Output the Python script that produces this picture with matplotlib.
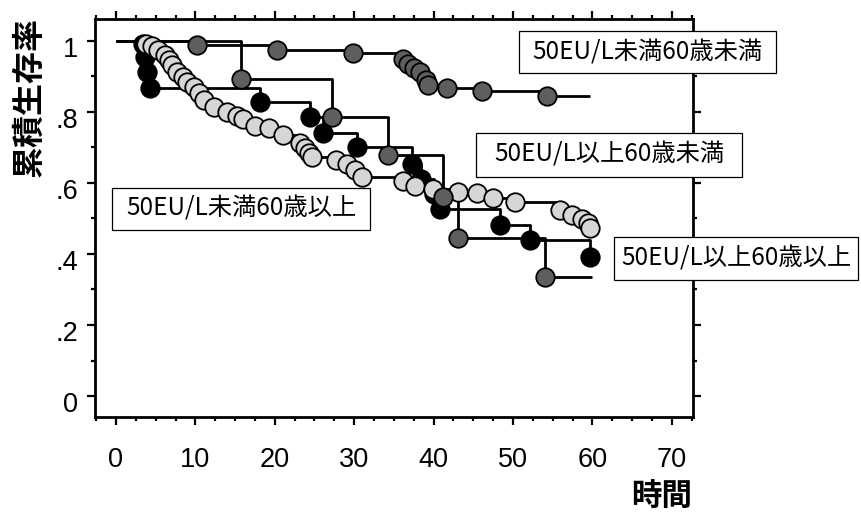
import matplotlib
matplotlib.use("Agg")
import matplotlib.pyplot as plt
import matplotlib.transforms as mtransforms
from matplotlib.patches import Rectangle
from matplotlib.ticker import MultipleLocator, FixedLocator, FixedFormatter

JP = ["Noto Sans CJK JP", "DejaVu Sans"]
NUM = ["Liberation Sans", "DejaVu Sans"]

# Kaplan-Meier survival estimates per group (time, cumulative survival)
# 50EU/L未満60歳未満
t_lo_young = [10.2, 20.3, 29.9, 36.1, 36.8, 37.5, 38.3, 39.0, 39.3, 41.7, 46.1, 54.3]
s_lo_young = [0.988, 0.974, 0.965, 0.948, 0.934, 0.923, 0.912, 0.889, 0.875, 0.867, 0.858, 0.844]
end_lo_young = 59.7

# 50EU/L以上60歳未満
t_hi_young = [15.8, 27.2, 34.3, 41.2, 43.1, 54.0]
s_hi_young = [0.891, 0.784, 0.678, 0.561, 0.445, 0.336]
end_hi_young = 59.9

# 50EU/L以上60歳以上
t_hi_old = [3.4, 3.6, 3.9, 4.3, 18.1, 24.4, 26.1, 30.3, 37.3, 38.4, 40.0, 40.8, 48.4, 52.1, 59.7]
s_hi_old = [0.992, 0.955, 0.913, 0.868, 0.828, 0.785, 0.740, 0.700, 0.654, 0.611, 0.568,
            0.525, 0.481, 0.440, 0.392]
end_hi_old = 59.7

# 50EU/L未満60歳以上
t_lo_old = [3.8, 4.5, 5.3, 6.2, 6.7, 7.1, 7.7, 8.4, 8.9, 9.8, 10.5, 11.1, 12.3, 14.0, 15.2,
            16.0, 17.5, 19.3, 21.0, 23.2, 23.8, 24.3, 24.7, 27.7, 29.1, 30.1, 31.0, 36.1,
            37.7, 39.9, 43.1, 45.5, 47.5, 50.3, 55.9, 57.4, 58.7, 59.4, 59.7]
s_lo_old = [0.990, 0.985, 0.974, 0.960, 0.946, 0.932, 0.912, 0.898, 0.885, 0.870, 0.853,
            0.833, 0.813, 0.799, 0.788, 0.780, 0.760, 0.754, 0.735, 0.712, 0.698, 0.684,
            0.673, 0.664, 0.653, 0.636, 0.616, 0.605, 0.591, 0.583, 0.574, 0.571, 0.557,
            0.546, 0.523, 0.509, 0.498, 0.487, 0.473]
end_lo_old = 59.7

x_ticks = [0, 10, 20, 30, 40, 50, 60, 70]
y_ticks = [0, 0.2, 0.4, 0.6, 0.8, 1.0]
y_tick_labels = ["0", ".2", ".4", ".6", ".8", "1"]

group_labels = ["50EU/L未満60歳未満", "50EU/L以上60歳未満", "50EU/L未満60歳以上", "50EU/L以上60歳以上"]

DARK = "#5e5e5e"
LIGHT = "#d6d6d6"

fig = plt.figure(figsize=(8.61, 5.19), dpi=100)
W, H = 861.0, 519.0
ax = fig.add_axes([95 / W, 1 - 416.7 / H, (693.3 - 95) / W, (416.7 - 19) / H])
ax.set_xlim(-2.64, 72.7)
ax.set_ylim(-0.058, 1.061)


def km(t, s, end, face, z):
    xs = [0.0] + list(t) + [end]
    ys = [1.0] + list(s) + [s[-1]]
    ax.step(xs, ys, where="post", color="black", lw=2.0, zorder=2, solid_capstyle="butt")
    ax.plot(t, s, "o", ls="none", ms=13.3, mfc=face, mec="black", mew=1.3, zorder=z)


km(t_hi_old, s_hi_old, end_hi_old, "black", 3)
km(t_lo_old, s_lo_old, end_lo_old, LIGHT, 4)
km(t_hi_young, s_hi_young, end_hi_young, DARK, 5)
km(t_lo_young, s_lo_young, end_lo_young, DARK, 5)

for sp in ax.spines.values():
    sp.set_linewidth(2.0)

ax.xaxis.set_major_locator(FixedLocator(x_ticks))
ax.xaxis.set_minor_locator(MultipleLocator(2.5))
ax.yaxis.set_major_locator(FixedLocator(y_ticks))
ax.yaxis.set_major_formatter(FixedFormatter(y_tick_labels))
ax.yaxis.set_minor_locator(MultipleLocator(0.1))
ax.tick_params(which="both", direction="out", top=True, right=True, width=1.6)
ax.tick_params(which="major", length=6)
ax.tick_params(which="minor", length=3)
ax.tick_params(axis="x", which="major", pad=16)
ax.tick_params(axis="y", which="major", pad=6)
shift_down = mtransforms.ScaledTranslation(0, -6 / 100, fig.dpi_scale_trans)
for lab in ax.get_xticklabels() + ax.get_yticklabels():
    lab.set_fontfamily(NUM)
    lab.set_fontsize(19.5)
for lab in ax.get_yticklabels():
    lab.set_transform(lab.get_transform() + shift_down)

# group name boxes
boxes = [(519, 31, 776, 73), (476, 133, 742, 177), (112, 188, 370, 230), (614, 237, 858, 280)]
for (x0, y0, x1, y1), name in zip(boxes, group_labels):
    fig.patches.append(Rectangle((x0 / W, 1 - y1 / H), (x1 - x0) / W, (y1 - y0) / H,
                                 transform=fig.transFigure, facecolor="white",
                                 edgecolor="black", lw=0.9, zorder=10))
    fig.text((x0 + x1) / 2 / W, 1 - (y0 + y1) / 2 / H, name, ha="center", va="center",
             fontsize=17.5, family=JP, zorder=11)

fig.text(30 / W, 1 - 97 / H, "累積生存率", rotation=90, ha="center", va="center",
         fontsize=23, fontweight="bold", family=JP)
fig.text(662 / W, 1 - 497 / H, "時間", ha="center", va="center",
         fontsize=22, fontweight="bold", family=JP)

fig.savefig("out.png", dpi=100)
